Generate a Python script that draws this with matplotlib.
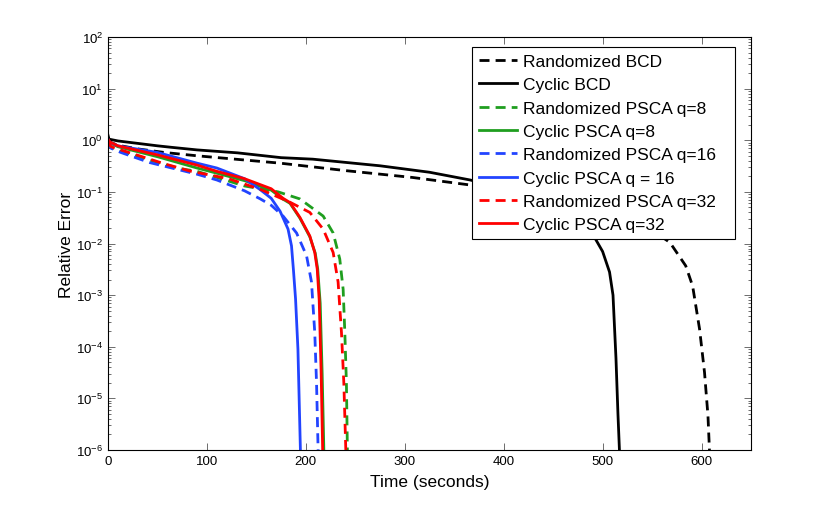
import matplotlib
matplotlib.use("Agg")
import matplotlib.pyplot as plt
from matplotlib.ticker import LogLocator, FixedLocator, NullFormatter
from matplotlib.patches import Rectangle

plt.rcParams['font.family'] = ['Liberation Sans', 'DejaVu Sans']
plt.rcParams['mathtext.fontset'] = 'custom'
plt.rcParams['mathtext.rm'] = 'Liberation Sans'
plt.rcParams['mathtext.it'] = 'Liberation Sans:italic'
plt.rcParams['mathtext.bf'] = 'Liberation Sans:bold'

# ---- data (time in seconds, relative error) ----
rand_bcd_t = [0, 3, 10, 30, 57, 90, 174, 241, 308, 366, 400, 450, 500, 530, 550, 568, 584, 591, 598, 603, 606.5, 608]
rand_bcd_y = [1.05, 0.9, 0.8, 0.68, 0.58, 0.5, 0.36, 0.257, 0.19, 0.136, 0.11, 0.07, 0.04, 0.027, 0.018, 0.0105, 3.7e-3, 1.5e-3, 2.2e-4, 3.2e-5, 4.6e-6, 1e-6]

cyc_bcd_t = [0, 1, 10, 50, 64, 90, 131, 175, 207, 275, 325, 366, 400, 430, 460, 480, 493, 500, 507, 510.5, 513.5, 515.5, 517]
cyc_bcd_y = [1.25, 1.05, 0.97, 0.78, 0.73, 0.65, 0.57, 0.46, 0.43, 0.32, 0.24, 0.17, 0.12, 0.08, 0.045, 0.025, 0.012, 7e-3, 2.8e-3, 1e-3, 6e-5, 5e-6, 1e-6]

rand_q8_t = [0, 3, 13, 57, 74, 90, 138, 172, 194, 217.5, 227.6, 234.3, 237.7, 239.4, 241, 242]
rand_q8_y = [0.95, 0.72, 0.61, 0.34, 0.28, 0.25, 0.13, 0.1, 0.073, 0.034, 0.016, 5e-3, 1.3e-3, 1.9e-4, 2e-5, 1e-6]

cyc_q8_t = [0, 2, 10, 50, 90, 110, 138, 165, 177, 184, 194, 204, 209.5, 212, 214.5, 216.5, 218.2]
cyc_q8_y = [1.0, 0.88, 0.75, 0.48, 0.29, 0.23, 0.165, 0.108, 0.072, 0.06, 0.031, 0.0135, 6.5e-3, 3.2e-3, 7e-4, 3e-5, 1e-6]

rand_q16_t = [0, 3, 13, 42, 90, 110, 138, 154, 165, 177, 190.6, 200.7, 205.7, 209, 210.8, 212.4]
rand_q16_y = [0.95, 0.7, 0.58, 0.37, 0.22, 0.17, 0.105, 0.073, 0.055, 0.034, 0.016, 5.8e-3, 1.8e-3, 1.9e-4, 2e-5, 1e-6]

cyc_q16_t = [0, 2, 10, 50, 90, 110, 138, 154, 165, 174, 182, 185.5, 187.5, 189.6, 192, 194.5]
cyc_q16_y = [1.05, 0.9, 0.78, 0.58, 0.36, 0.29, 0.18, 0.11, 0.075, 0.042, 0.019, 9e-3, 3e-3, 8.4e-4, 9e-5, 1e-6]

rand_q32_t = [0, 3, 13, 57, 84, 110, 122, 155, 184, 204, 217.5, 227.6, 232.6, 236, 238.4, 240.4]
rand_q32_y = [0.95, 0.75, 0.65, 0.35, 0.25, 0.2, 0.18, 0.11, 0.063, 0.04, 0.019, 6.7e-3, 1.8e-3, 1.9e-4, 2e-5, 1e-6]

cyc_q32_t = [0, 2, 10, 50, 90, 110, 138, 165, 177, 184, 194, 204, 209, 211.5, 213.5, 215.5, 217]
cyc_q32_y = [1.05, 0.92, 0.78, 0.52, 0.33, 0.25, 0.18, 0.115, 0.075, 0.062, 0.032, 0.014, 6.7e-3, 3.2e-3, 8e-4, 3e-5, 1e-6]

labels = ['Randomized BCD', 'Cyclic BCD', 'Randomized PSCA q=8', 'Cyclic PSCA q=8',
          'Randomized PSCA q=16', 'Cyclic PSCA q = 16', 'Randomized PSCA q=32', 'Cyclic PSCA q=32']
x_ticks = [0, 100, 200, 300, 400, 500, 600]

series = [(rand_bcd_t, rand_bcd_y), (cyc_bcd_t, cyc_bcd_y), (rand_q8_t, rand_q8_y), (cyc_q8_t, cyc_q8_y),
          (rand_q16_t, rand_q16_y), (cyc_q16_t, cyc_q16_y), (rand_q32_t, rand_q32_y), (cyc_q32_t, cyc_q32_y)]
colors = ['black', 'black', '#1f9e1f', '#1f9e1f', '#2244ff', '#2244ff', '#ff0000', '#ff0000']
dashed = [True, False, True, False, True, False, True, False]

W, H = 830, 510
fig = plt.figure(figsize=(8.3, 5.1), dpi=100)
ax = fig.add_axes([108/W, 1-451/H, (751-108)/W, (451-38)/H])

for (t, y), c, d, lab in zip(series, colors, dashed, labels):
    if d:
        ax.semilogy(t, y, color=c, lw=2.0, ls=(0, (3.6, 2.2)), label=lab)
    else:
        ax.semilogy(t, y, color=c, lw=2.0, ls='-', label=lab)

ax.set_xlim(0, 650)
ax.set_ylim(1e-6, 1e2)
ax.xaxis.set_major_locator(FixedLocator(x_ticks))
ax.yaxis.set_major_locator(LogLocator(base=10, numticks=20))
ax.yaxis.set_minor_locator(LogLocator(base=10, subs=range(2, 10), numticks=20))
ax.yaxis.set_minor_formatter(NullFormatter())
ax.tick_params(which='both', direction='in', top=True, right=True, color='#555555', width=0.6, labelsize=9.5)
ax.tick_params(which='major', length=5)
ax.tick_params(which='minor', length=2.5)
for s in ax.spines.values():
    s.set_linewidth(0.8)

ax.set_xlabel('Time (seconds)', fontsize=12.5, labelpad=5)
ax.set_ylabel('Relative Error', fontsize=12.5, labelpad=1.5)

# legend box (MATLAB style with extra right padding)
lx0, ly0, lx1, ly1 = 471.7, 48, 735.3, 240
leg = ax.legend(loc='upper left', bbox_to_anchor=(lx0/W, 1-ly0/H), bbox_transform=fig.transFigure,
                borderaxespad=0, fontsize=12.5, frameon=False,
                labelspacing=0.47, handlelength=2.2, handletextpad=0.35,
                borderpad=0.4)
leg.set_zorder(6)
frame = Rectangle((lx0/W, 1-ly1/H), (lx1-lx0)/W, (ly1-ly0)/H, transform=fig.transFigure,
                  facecolor='white', edgecolor='black', lw=0.8, zorder=5)
ax.add_artist(frame)
frame.set_clip_on(False)

fig.savefig('out.png', dpi=100)
